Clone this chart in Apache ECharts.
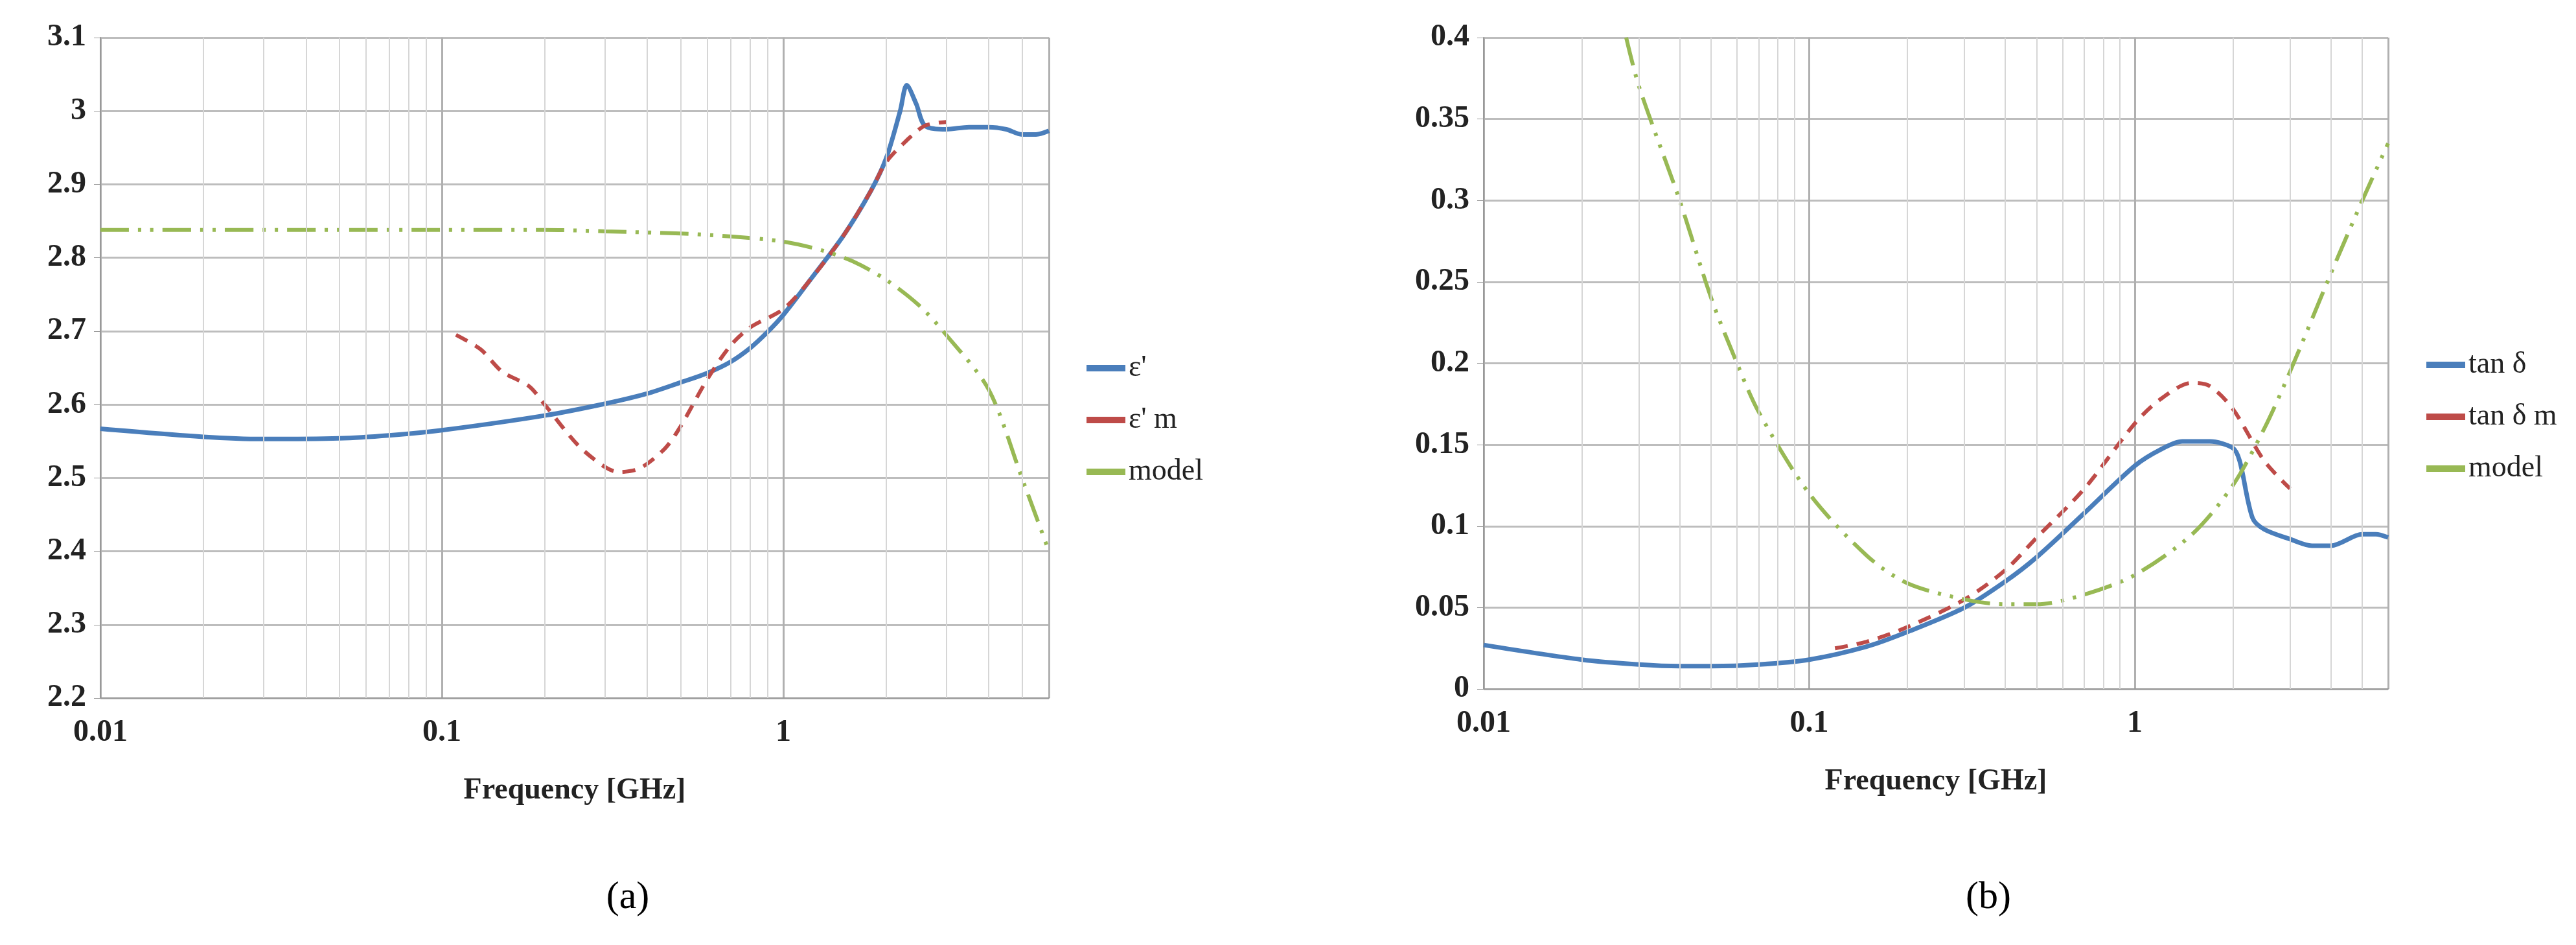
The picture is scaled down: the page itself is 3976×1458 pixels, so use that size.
<!DOCTYPE html>
<html>
<head>
<meta charset="utf-8">
<script src="https://cdn.jsdelivr.net/npm/echarts@6/dist/echarts.min.js"></script>
<style>html,body{margin:0;background:#fff}#c{width:3976px;height:1458px}</style>
</head>
<body>
<div id="c"></div>
<script>
// (a) permittivity
const epsF = [0.01,0.02,0.03,0.05,0.07,0.1,0.2,0.3,0.4,0.5,0.6,0.7,0.8,0.9,1,1.2,1.5,1.8,2.0,2.2,2.3,2.45,2.6,3,3.5,4,4.5,5,5.5,6];
const epsV = [2.567,2.556,2.553,2.554,2.558,2.565,2.585,2.601,2.615,2.63,2.643,2.658,2.677,2.699,2.722,2.77,2.83,2.89,2.935,3.0,3.035,3.01,2.98,2.975,2.978,2.978,2.975,2.968,2.968,2.973];
const epsMF = [0.11,0.13,0.15,0.18,0.2,0.25,0.3,0.33,0.38,0.45,0.5,0.6,0.7,0.8,1.0,1.2,1.5,1.8,2.0,2.3,2.6,3.0];
const epsMV = [2.695,2.675,2.645,2.625,2.6,2.545,2.515,2.508,2.513,2.54,2.57,2.635,2.68,2.705,2.73,2.77,2.83,2.89,2.93,2.96,2.98,2.985];
const epsModF = [0.01,0.05,0.1,0.2,0.3,0.5,0.7,1,1.3,1.6,2,2.5,3,4,5,6];
const epsModV = [2.838,2.838,2.838,2.838,2.836,2.833,2.829,2.822,2.81,2.795,2.77,2.735,2.695,2.62,2.5,2.4];
// (b) loss tangent
const tanF = [0.01,0.02,0.03,0.04,0.05,0.07,0.1,0.15,0.2,0.3,0.4,0.5,0.7,1.0,1.2,1.4,1.7,2.0,2.1,2.3,2.5,3,3.5,4,5,5.5,6];
const tanV = [0.027,0.018,0.015,0.014,0.014,0.015,0.018,0.026,0.035,0.05,0.066,0.081,0.108,0.137,0.147,0.152,0.152,0.148,0.14,0.105,0.098,0.092,0.088,0.088,0.095,0.095,0.093];
const tanMF = [0.12,0.15,0.2,0.3,0.4,0.5,0.7,1.0,1.2,1.5,1.7,2.0,2.5,3.0];
const tanMV = [0.025,0.029,0.038,0.055,0.073,0.093,0.123,0.163,0.178,0.188,0.186,0.172,0.14,0.123];
const tanModF = [0.0274,0.03,0.04,0.05,0.06,0.07,0.1,0.15,0.2,0.3,0.4,0.5,0.7,1,1.5,2,2.5,3,4,5,6];
const tanModV = [0.4,0.37,0.3,0.24,0.2,0.17,0.12,0.082,0.065,0.055,0.052,0.052,0.058,0.07,0.095,0.125,0.16,0.195,0.255,0.3,0.335];
const minorGrid = [0.02,0.03,0.04,0.05,0.06,0.07,0.08,0.09,0.2,0.3,0.4,0.5,0.6,0.7,0.8,0.9,2,3,4,5];
const xLabels = [0.01,0.1,1];

const zip = (a, b) => a.map((x, i) => [x, b[i]]);
const serif = 'Liberation Serif';
const BLUE = '#4a7ebb', RED = '#be4b48', GREEN = '#98b954';
const dashDot = [44, 14, 5, 14, 5, 14];

function xAxis(gi) {
  return {
    type: 'log', logBase: 10, min: 0.01, max: 6, gridIndex: gi,
    name: 'Frequency [GHz]', nameLocation: 'middle', nameGap: 120,
    nameTextStyle: {fontFamily: serif, fontWeight: 'bold', fontSize: 46, color: '#222'},
    axisLine: {lineStyle: {color: '#999', width: 2}},
    axisTick: {show: false},
    axisLabel: {fontFamily: serif, fontWeight: 'bold', fontSize: 48, color: '#222', margin: 30,
      showMaxLabel: false,
      formatter: v => xLabels.some(t => Math.abs(t - v) < 1e-9) ? String(v) : ''},
    splitLine: {show: true, lineStyle: {color: '#b0b0b0', width: 3}}
  };
}
function yAxis(gi, min, max, step) {
  return {
    type: 'value', min, max, interval: step, gridIndex: gi,
    axisLine: {show: true, lineStyle: {color: '#999', width: 2}},
    axisTick: {show: true, length: 10, lineStyle: {color: '#999'}},
    axisLabel: {fontFamily: serif, fontWeight: 'bold', fontSize: 48, color: '#222', margin: 22,
      formatter: v => String(parseFloat(v.toFixed(3)))},
    splitLine: {lineStyle: {color: '#bdbdbd', width: 3}}
  };
}
function gridSeries(gi) {
  return {
    type: 'line', xAxisIndex: gi, yAxisIndex: gi, data: [], silent: true,
    markLine: {symbol: 'none', silent: true, label: {show: false},
      lineStyle: {color: '#d6d6d6', width: 2, type: 'solid'},
      data: minorGrid.map(v => ({xAxis: v}))}
  };
}
function line(name, gi, data, color, type, w) {
  return {name, type: 'line', xAxisIndex: gi, yAxisIndex: gi, data, smooth: 0.3,
    showSymbol: false, symbol: 'none', lineStyle: {color, width: w, type}, itemStyle: {color}};
}
const legendStyle = {orient: 'vertical', itemWidth: 60, itemHeight: 10, itemGap: 34, icon: 'rect',
  textStyle: {fontFamily: serif, fontSize: 46, color: '#222'}};

const chart = echarts.init(document.getElementById('c'));
chart.setOption({
  backgroundColor: '#fff',
  animation: false,
  title: [
    {text: '(a)', left: 964, top: 1350, textAlign: 'center', textStyle: {fontFamily: serif, fontSize: 60, fontWeight: 'normal', color: '#000'}},
    {text: '(b)', left: 3064, top: 1350, textAlign: 'center', textStyle: {fontFamily: serif, fontSize: 60, fontWeight: 'normal', color: '#000'}}
  ],
  grid: [
    {left: 155, top: 58, width: 1464, height: 1019},
    {left: 2290, top: 58, width: 1396, height: 1005}
  ],
  xAxis: [xAxis(0), xAxis(1)],
  yAxis: [yAxis(0, 2.2, 3.1, 0.1), yAxis(1, 0, 0.4, 0.05)],
  legend: [
    Object.assign({left: 1672, top: 540, data: ["ε'", "ε' m", 'model']}, legendStyle),
    Object.assign({left: 3740, top: 535, data: ['tan δ', 'tan δ m', 'model ']}, legendStyle)
  ],
  series: [
    gridSeries(0), gridSeries(1),
    line("ε'", 0, zip(epsF, epsV), BLUE, 'solid', 7),
    line("ε' m", 0, zip(epsMF, epsMV), RED, [20, 14], 6),
    line('model', 0, zip(epsModF, epsModV), GREEN, dashDot, 6),
    line('tan δ', 1, zip(tanF, tanV), BLUE, 'solid', 7),
    line('tan δ m', 1, zip(tanMF, tanMV), RED, [20, 14], 6),
    line('model ', 1, zip(tanModF, tanModV), GREEN, dashDot, 6)
  ]
});
</script>
</body>
</html>
